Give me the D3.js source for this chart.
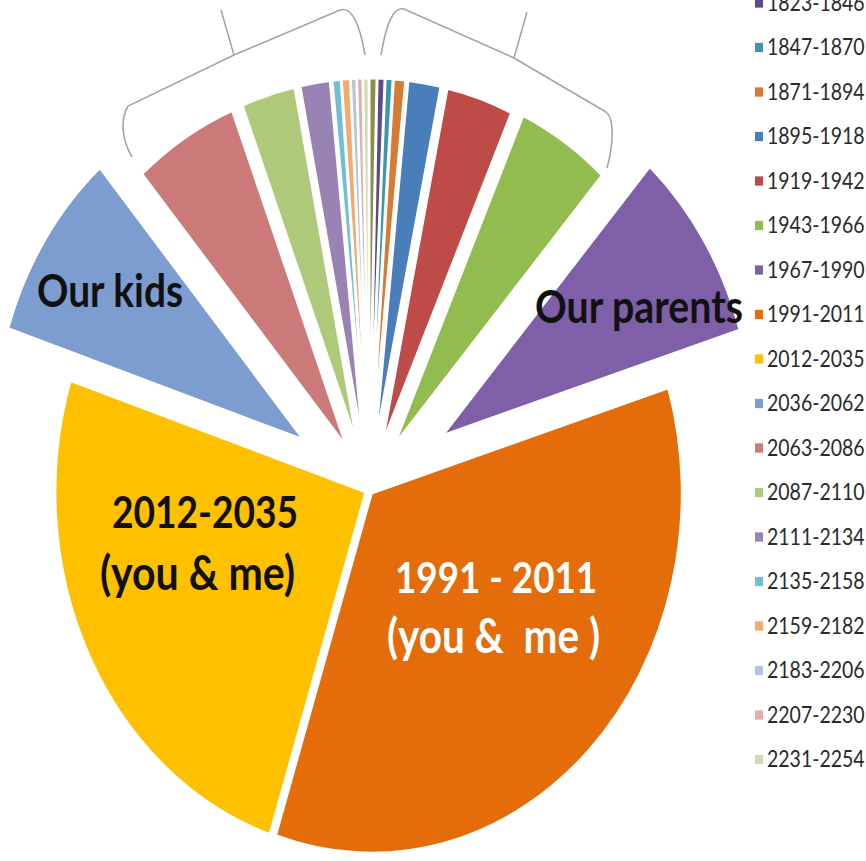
<!DOCTYPE html>
<html>
<head>
<meta charset="utf-8">
<script src="https://cdn.jsdelivr.net/npm/d3@7"></script>
<style>
  html, body { margin: 0; padding: 0; background: #fff; }
  svg { display: block; }
</style>
</head>
<body>
<div id="chart"></div>
<script>
// generations, earliest first (pie runs clockwise from 12 o'clock)
var generations = ["1799-1822", "1823-1846", "1847-1870", "1871-1894", "1895-1918",
  "1919-1942", "1943-1966", "1967-1990", "1991-2011", "2012-2035", "2036-2062",
  "2063-2086", "2087-2110", "2111-2134", "2135-2158", "2159-2182", "2183-2206",
  "2207-2230", "2231-2254"];
// share of the pie
var shares = [1.3, 1.3, 1.3, 2.1, 6, 12.4, 17.4, 31.2, 125, 90, 31,
  19.5, 10, 5.5, 1.5, 1.5, 1, 1, 1];
var colors = ["#86904a", "#5e4a8a", "#3c96ac", "#d97a34", "#4a7ebb",
  "#be4b48", "#92bb50", "#7f5fa8", "#e46c0a", "#ffc000", "#7d9ccf",
  "#cb7a79", "#afc97a", "#9983b5", "#6fc0d4", "#f7a86b", "#b3c3e0",
  "#e0b0b0", "#cedcb2"];
// how far each slice is pulled out
var explode = [45, 45, 45, 45, 45, 45, 48, 88, 4, 4, 79,
  45, 45, 45, 45, 45, 45, 45, 45];

var W = 866, H = 861;
var cx = 369, cy = 490, R = 310, stretch = 1.16;

var svg = d3.select("#chart").append("svg")
  .attr("width", W).attr("height", H);

// *** braces over the small slices ***
var braceCol = "#a3a3b5";
var braces = [
  "M132,157 C122,140 120,120 128,106 L234,55 L221,10 M234,55 L340,10 C352,6 360,25 365,55",
  "M381,55 C386,25 393,6 404,9 L514,58 L527,12 M514,58 L606,112 C616,120 612,150 607,168"
];
svg.selectAll("path.brace").data(braces).enter().append("path")
  .attr("class", "brace")
  .attr("d", function (d) { return d; })
  .attr("fill", "none")
  .attr("stroke", braceCol)
  .attr("stroke-width", 1.6);

// *** pie ***
var pie = d3.pie().sort(null).value(function (d) { return d; })
  .startAngle(0).endAngle(2 * Math.PI);
var arc = d3.arc().innerRadius(0).outerRadius(R);
var arcs = pie(shares);

var pieG = svg.append("g")
  .attr("transform", "translate(" + cx + "," + cy + ") scale(1," + stretch + ")");

pieG.selectAll("path.slice").data(arcs).enter().append("path")
  .attr("class", "slice")
  .attr("d", arc)
  .attr("fill", function (d, i) { return colors[i]; })
  .attr("stroke", "#fff")
  .attr("stroke-width", 2)
  .attr("stroke-linejoin", "round")
  .attr("transform", function (d, i) {
    var a = (d.startAngle + d.endAngle) / 2;
    return "translate(" + (explode[i] * Math.sin(a)) + "," + (-explode[i] * Math.cos(a)) + ")";
  });

// *** labels on the slices ***
var labelFont = "Lato, 'Open Sans', 'DejaVu Sans', sans-serif";
var labels = [
  { t: "Our kids", x: 37, y: 307, w: 146, c: "#111" },
  { t: "Our parents", x: 535, y: 323, w: 208, c: "#111" },
  { t: "2012-2035", x: 112, y: 528, w: 186, c: "#111" },
  { t: "(you & me)", x: 100, y: 590, w: 195, c: "#111" },
  { t: "1991 - 2011", x: 395, y: 593, w: 202, c: "#fff" },
  { t: "(you &\u00a0 me )", x: 387, y: 653, w: 213, c: "#fff" }
];
labels.forEach(function (l) {
  var g = svg.append("g")
    .attr("transform", "translate(" + l.x + "," + l.y + ") scale(1," + stretch + ")");
  var txt = g.append("text")
    .attr("x", 0).attr("y", 0)
    .attr("font-family", labelFont)
    .attr("font-weight", "bold")
    .attr("font-size", 40)
    .attr("fill", l.c)
    .text(l.t);
  // size the text so its width matches the picture
  var len = txt.node().getComputedTextLength();
  txt.attr("font-size", 40 * l.w / len);
});

// *** legend ***
var legX = 755, legY0 = 3 - 44.5, legStep = 44.5;
var leg = svg.selectAll("g.leg").data(generations).enter().append("g")
  .attr("class", "leg")
  .attr("transform", function (d, i) {
    return "translate(" + legX + "," + (legY0 + i * legStep) + ") scale(1," + stretch + ")";
  });
leg.append("rect")
  .attr("x", 0).attr("y", -4)
  .attr("width", 8).attr("height", 8)
  .attr("fill", function (d, i) { return colors[i]; });
leg.append("text")
  .attr("x", 12).attr("y", 0)
  .attr("dy", "0.35em")
  .attr("font-family", labelFont)
  .attr("font-size", 19.5)
  .attr("fill", "#2a2a2a")
  .text(function (d) { return d; });
</script>
</body>
</html>
